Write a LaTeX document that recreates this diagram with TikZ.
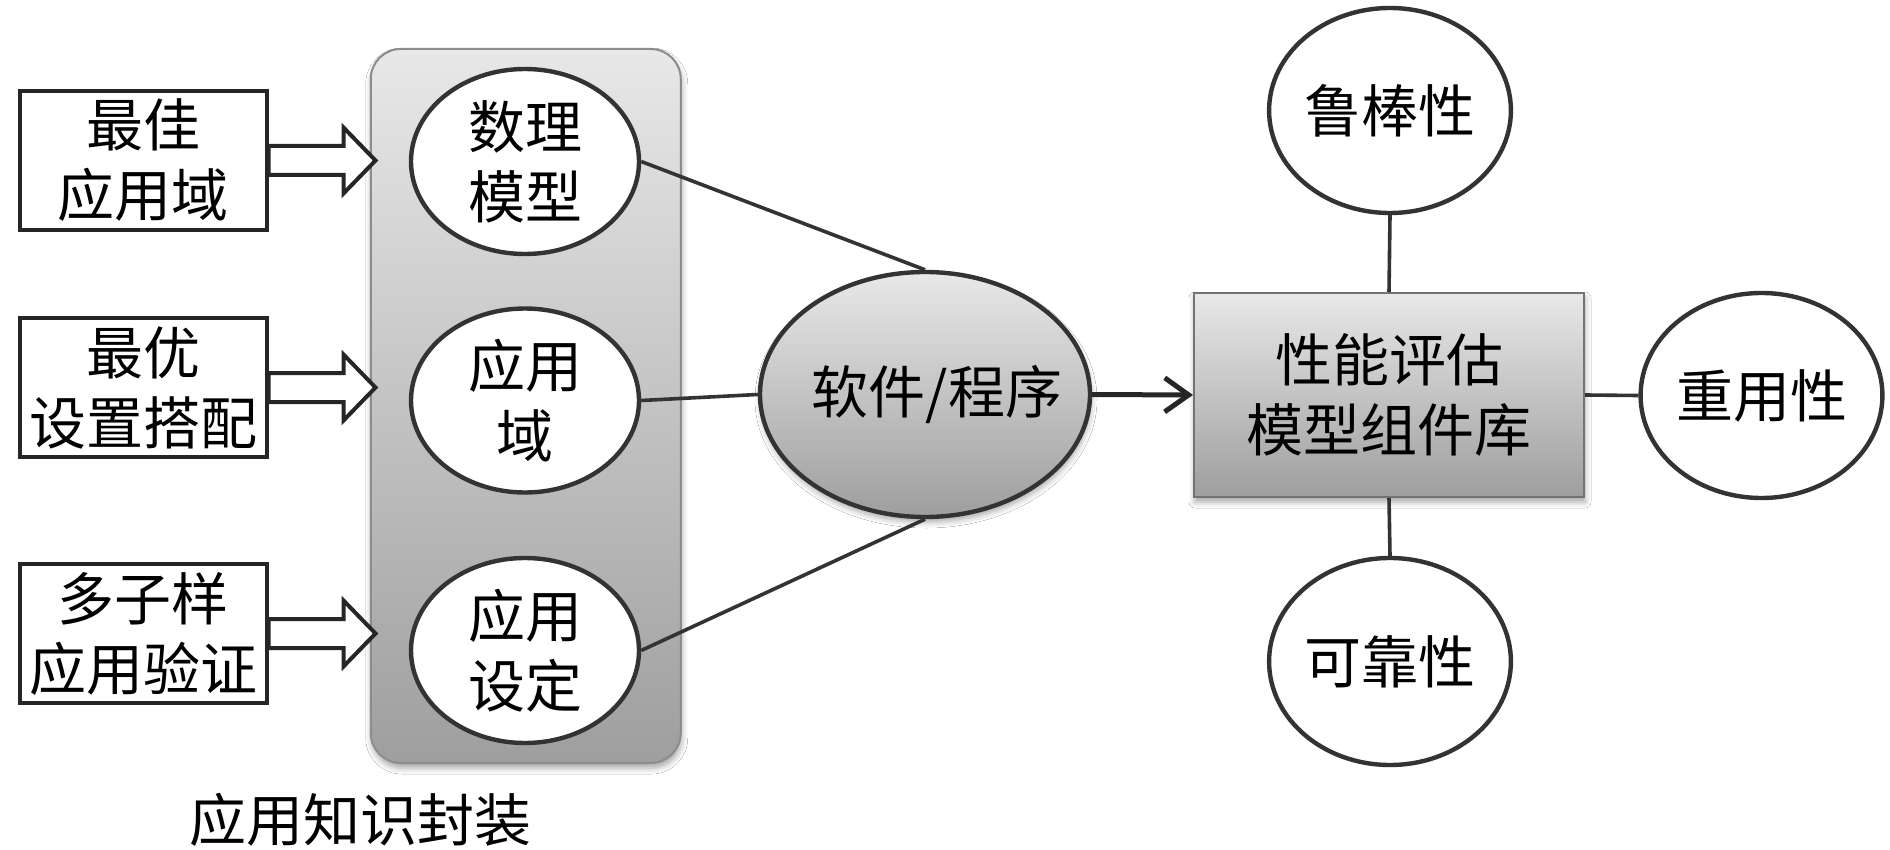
\documentclass[tikz,border=0pt]{standalone}
\usepackage{fontspec}
\newfontfamily\cjk{Noto Sans CJK SC}
\usetikzlibrary{shapes.geometric,arrows.meta,shadows.blur}
\begin{document}
\begin{tikzpicture}[x=0.5pt,y=-0.5pt,
  every node/.style={font=\cjk\fontsize{28.5}{35}\selectfont, align=center, inner sep=0pt, text=black},
  inbox/.style={draw=black!85, line width=2pt, fill=white, minimum width=123.5pt, minimum height=69.5pt},
  ell/.style={ellipse, draw=black!80, line width=2.2pt, fill=white},
  grad/.style={top color=black!9, bottom color=black!38},
  softshadow/.style={blur shadow={shadow xshift=0.5pt, shadow yshift=-2.5pt, shadow blur radius=3pt, shadow opacity=35}},
  conn/.style={draw=black!80, line width=1.8pt},
  blockarr/.style={draw=black!85, line width=2pt, fill=white, line join=miter},
]
\fill[white] (0,0) rectangle (1890,850);
\useasboundingbox (0,0) rectangle (1890,850);

% encapsulation container
\node[draw=black!45, line width=1pt, rounded corners=15pt, grad, softshadow,
      minimum width=155pt, minimum height=357pt] (enc) at (525.75,406) {};
\node (lab) at (360,820) {应用知识封装};

% inner ellipses
\node[ell, minimum width=114pt, minimum height=92.5pt] (c1) at (525,161.5) {数理\\模型};
\node[ell, minimum width=114pt, minimum height=92pt] (c2) at (525,400.5) {应用\\域};
\node[ell, minimum width=114pt, minimum height=92.5pt] (c3) at (525,650.5) {应用\\设定};

% left boxes
\node[inbox] (b1) at (143,160.5) {最佳\\应用域};
\node[inbox] (b2) at (143,387.5) {最优\\设置搭配};
\node[inbox] (b3) at (143,633.5) {多子样\\应用验证};

% block arrows
\foreach \b in {b1,b2,b3}{
  \draw[blockarr] ([yshift=7.25pt]\b.east) -- ++(75,0) -- ++(0,-18.5) -- ++(32,33)
      -- ++(-32,33) -- ++(0,-18.5) -- ++(-75,0) -- cycle;
}

% software ellipse
\node[ell, grad, softshadow, minimum width=165pt, minimum height=122.5pt,
      label={[xshift=6pt]center:软件/程序}] (sw) at (925,394.5) {};

\draw[conn] (c1.east) -- (sw.north);
\draw[conn] (c2.east) -- (sw.west);
\draw[conn] (c3.east) -- (sw.south);

% performance box
\node[draw=black!55, line width=1pt, grad, softshadow,
      minimum width=195pt, minimum height=102pt] (perf) at (1389,395) {性能评估\\模型组件库};

\draw[draw=black!85, line width=2.5pt, -{Straight Barb[length=12pt,width=17pt]}] (sw.east) -- (perf.west);

% quality ellipses
\node[ell, minimum width=115pt, minimum height=102.5pt] (rob) at (1390,110.5) {鲁棒性};
\node[ell, minimum width=113.5pt, minimum height=102.5pt] (reu) at (1761.5,395.5) {重用性};
\node[ell, minimum width=115pt, minimum height=103.5pt] (rel) at (1390,661.5) {可靠性};

\draw[conn] (perf.north) -- (rob.south);
\draw[conn] (perf.east) -- (reu.west);
\draw[conn] (perf.south) -- (rel.north);
\end{tikzpicture}
\end{document}
